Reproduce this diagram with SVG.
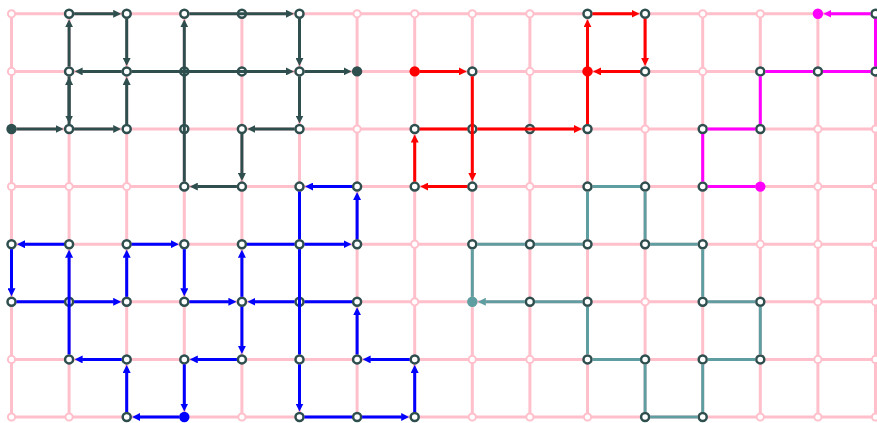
<svg xmlns="http://www.w3.org/2000/svg" width="877" height="423" viewBox="0 0 877 423">
<style>
.gl{stroke:#ffc0cb;stroke-width:3;fill:none}
.gp circle{fill:#fff;stroke:#ffc0cb;stroke-width:2}
.n{fill:#fff;stroke:#2f4f4f;stroke-width:2.5}
.e line{stroke-width:3;fill:none;stroke-linecap:butt}
.dk line{stroke:#2f4f4f}
.rd line{stroke:#ff0000}
.bl line{stroke:#0000ff}
.tl line{stroke:#5f9ea0}
.mg line{stroke:#ff00ff}
</style>
<defs>
<marker id="ad" markerUnits="userSpaceOnUse" markerWidth="8" markerHeight="8" viewBox="0 -4 8 8" refX="0.5" refY="0" orient="auto"><path d="M0,-4L8,0L0,4z" fill="#2f4f4f"/></marker>
<marker id="ar" markerUnits="userSpaceOnUse" markerWidth="8" markerHeight="8" viewBox="0 -4 8 8" refX="0.5" refY="0" orient="auto"><path d="M0,-4L8,0L0,4z" fill="#ff0000"/></marker>
<marker id="ab" markerUnits="userSpaceOnUse" markerWidth="8" markerHeight="8" viewBox="0 -4 8 8" refX="0.5" refY="0" orient="auto"><path d="M0,-4L8,0L0,4z" fill="#0000ff"/></marker>
<marker id="at" markerUnits="userSpaceOnUse" markerWidth="8" markerHeight="8" viewBox="0 -4 8 8" refX="0.5" refY="0" orient="auto"><path d="M0,-4L8,0L0,4z" fill="#5f9ea0"/></marker>
<marker id="am" markerUnits="userSpaceOnUse" markerWidth="8" markerHeight="8" viewBox="0 -4 8 8" refX="0.5" refY="0" orient="auto"><path d="M0,-4L8,0L0,4z" fill="#ff00ff"/></marker>
</defs>
<g id="grid">
<path class="gl" d="M11.5,13.8H875.5M11.5,71.4H875.5M11.5,129H875.5M11.5,186.6H875.5M11.5,244.2H875.5M11.5,301.8H875.5M11.5,359.4H875.5M11.5,417H875.5M11.5,13.8V417M69.1,13.8V417M126.7,13.8V417M184.3,13.8V417M241.9,13.8V417M299.5,13.8V417M357.1,13.8V417M414.7,13.8V417M472.3,13.8V417M529.9,13.8V417M587.5,13.8V417M645.1,13.8V417M702.7,13.8V417M760.3,13.8V417M817.9,13.8V417M875.5,13.8V417"/>
<g class="gp">
<circle cx="11.5" cy="13.8" r="3.6"/><circle cx="69.1" cy="13.8" r="3.6"/><circle cx="126.7" cy="13.8" r="3.6"/><circle cx="184.3" cy="13.8" r="3.6"/><circle cx="241.9" cy="13.8" r="3.6"/><circle cx="299.5" cy="13.8" r="3.6"/><circle cx="357.1" cy="13.8" r="3.6"/><circle cx="414.7" cy="13.8" r="3.6"/><circle cx="472.3" cy="13.8" r="3.6"/><circle cx="529.9" cy="13.8" r="3.6"/><circle cx="587.5" cy="13.8" r="3.6"/><circle cx="645.1" cy="13.8" r="3.6"/><circle cx="702.7" cy="13.8" r="3.6"/><circle cx="760.3" cy="13.8" r="3.6"/><circle cx="817.9" cy="13.8" r="3.6"/><circle cx="875.5" cy="13.8" r="3.6"/>
<circle cx="11.5" cy="71.4" r="3.6"/><circle cx="69.1" cy="71.4" r="3.6"/><circle cx="126.7" cy="71.4" r="3.6"/><circle cx="184.3" cy="71.4" r="3.6"/><circle cx="241.9" cy="71.4" r="3.6"/><circle cx="299.5" cy="71.4" r="3.6"/><circle cx="357.1" cy="71.4" r="3.6"/><circle cx="414.7" cy="71.4" r="3.6"/><circle cx="472.3" cy="71.4" r="3.6"/><circle cx="529.9" cy="71.4" r="3.6"/><circle cx="587.5" cy="71.4" r="3.6"/><circle cx="645.1" cy="71.4" r="3.6"/><circle cx="702.7" cy="71.4" r="3.6"/><circle cx="760.3" cy="71.4" r="3.6"/><circle cx="817.9" cy="71.4" r="3.6"/><circle cx="875.5" cy="71.4" r="3.6"/>
<circle cx="11.5" cy="129" r="3.6"/><circle cx="69.1" cy="129" r="3.6"/><circle cx="126.7" cy="129" r="3.6"/><circle cx="184.3" cy="129" r="3.6"/><circle cx="241.9" cy="129" r="3.6"/><circle cx="299.5" cy="129" r="3.6"/><circle cx="357.1" cy="129" r="3.6"/><circle cx="414.7" cy="129" r="3.6"/><circle cx="472.3" cy="129" r="3.6"/><circle cx="529.9" cy="129" r="3.6"/><circle cx="587.5" cy="129" r="3.6"/><circle cx="645.1" cy="129" r="3.6"/><circle cx="702.7" cy="129" r="3.6"/><circle cx="760.3" cy="129" r="3.6"/><circle cx="817.9" cy="129" r="3.6"/><circle cx="875.5" cy="129" r="3.6"/>
<circle cx="11.5" cy="186.6" r="3.6"/><circle cx="69.1" cy="186.6" r="3.6"/><circle cx="126.7" cy="186.6" r="3.6"/><circle cx="184.3" cy="186.6" r="3.6"/><circle cx="241.9" cy="186.6" r="3.6"/><circle cx="299.5" cy="186.6" r="3.6"/><circle cx="357.1" cy="186.6" r="3.6"/><circle cx="414.7" cy="186.6" r="3.6"/><circle cx="472.3" cy="186.6" r="3.6"/><circle cx="529.9" cy="186.6" r="3.6"/><circle cx="587.5" cy="186.6" r="3.6"/><circle cx="645.1" cy="186.6" r="3.6"/><circle cx="702.7" cy="186.6" r="3.6"/><circle cx="760.3" cy="186.6" r="3.6"/><circle cx="817.9" cy="186.6" r="3.6"/><circle cx="875.5" cy="186.6" r="3.6"/>
<circle cx="11.5" cy="244.2" r="3.6"/><circle cx="69.1" cy="244.2" r="3.6"/><circle cx="126.7" cy="244.2" r="3.6"/><circle cx="184.3" cy="244.2" r="3.6"/><circle cx="241.9" cy="244.2" r="3.6"/><circle cx="299.5" cy="244.2" r="3.6"/><circle cx="357.1" cy="244.2" r="3.6"/><circle cx="414.7" cy="244.2" r="3.6"/><circle cx="472.3" cy="244.2" r="3.6"/><circle cx="529.9" cy="244.2" r="3.6"/><circle cx="587.5" cy="244.2" r="3.6"/><circle cx="645.1" cy="244.2" r="3.6"/><circle cx="702.7" cy="244.2" r="3.6"/><circle cx="760.3" cy="244.2" r="3.6"/><circle cx="817.9" cy="244.2" r="3.6"/><circle cx="875.5" cy="244.2" r="3.6"/>
<circle cx="11.5" cy="301.8" r="3.6"/><circle cx="69.1" cy="301.8" r="3.6"/><circle cx="126.7" cy="301.8" r="3.6"/><circle cx="184.3" cy="301.8" r="3.6"/><circle cx="241.9" cy="301.8" r="3.6"/><circle cx="299.5" cy="301.8" r="3.6"/><circle cx="357.1" cy="301.8" r="3.6"/><circle cx="414.7" cy="301.8" r="3.6"/><circle cx="472.3" cy="301.8" r="3.6"/><circle cx="529.9" cy="301.8" r="3.6"/><circle cx="587.5" cy="301.8" r="3.6"/><circle cx="645.1" cy="301.8" r="3.6"/><circle cx="702.7" cy="301.8" r="3.6"/><circle cx="760.3" cy="301.8" r="3.6"/><circle cx="817.9" cy="301.8" r="3.6"/><circle cx="875.5" cy="301.8" r="3.6"/>
<circle cx="11.5" cy="359.4" r="3.6"/><circle cx="69.1" cy="359.4" r="3.6"/><circle cx="126.7" cy="359.4" r="3.6"/><circle cx="184.3" cy="359.4" r="3.6"/><circle cx="241.9" cy="359.4" r="3.6"/><circle cx="299.5" cy="359.4" r="3.6"/><circle cx="357.1" cy="359.4" r="3.6"/><circle cx="414.7" cy="359.4" r="3.6"/><circle cx="472.3" cy="359.4" r="3.6"/><circle cx="529.9" cy="359.4" r="3.6"/><circle cx="587.5" cy="359.4" r="3.6"/><circle cx="645.1" cy="359.4" r="3.6"/><circle cx="702.7" cy="359.4" r="3.6"/><circle cx="760.3" cy="359.4" r="3.6"/><circle cx="817.9" cy="359.4" r="3.6"/><circle cx="875.5" cy="359.4" r="3.6"/>
<circle cx="11.5" cy="417" r="3.6"/><circle cx="69.1" cy="417" r="3.6"/><circle cx="126.7" cy="417" r="3.6"/><circle cx="184.3" cy="417" r="3.6"/><circle cx="241.9" cy="417" r="3.6"/><circle cx="299.5" cy="417" r="3.6"/><circle cx="357.1" cy="417" r="3.6"/><circle cx="414.7" cy="417" r="3.6"/><circle cx="472.3" cy="417" r="3.6"/><circle cx="529.9" cy="417" r="3.6"/><circle cx="587.5" cy="417" r="3.6"/><circle cx="645.1" cy="417" r="3.6"/><circle cx="702.7" cy="417" r="3.6"/><circle cx="760.3" cy="417" r="3.6"/><circle cx="817.9" cy="417" r="3.6"/><circle cx="875.5" cy="417" r="3.6"/>
</g>
</g>
<g id="nodes">
<g id="n0_2"><circle cx="11.5" cy="129" r="5.2" fill="#2f4f4f"/></g>
<g id="n1_0"><circle class="n" cx="69.1" cy="13.8" r="4"/></g>
<g id="n2_0"><circle class="n" cx="126.7" cy="13.8" r="4"/></g>
<g id="n3_0"><circle class="n" cx="184.3" cy="13.8" r="4"/></g>
<g id="n4_0"><circle class="n" cx="241.9" cy="13.8" r="4"/></g>
<g id="n5_0"><circle class="n" cx="299.5" cy="13.8" r="4"/></g>
<g id="n1_1"><circle class="n" cx="69.1" cy="71.4" r="4"/></g>
<g id="n2_1"><circle class="n" cx="126.7" cy="71.4" r="4"/></g>
<g id="n3_1"><circle class="n" cx="184.3" cy="71.4" r="4"/></g>
<g id="n4_1"><circle class="n" cx="241.9" cy="71.4" r="4"/></g>
<g id="n5_1"><circle class="n" cx="299.5" cy="71.4" r="4"/></g>
<g id="n6_1"><circle cx="357.1" cy="71.4" r="5.2" fill="#2f4f4f"/></g>
<g id="n1_2"><circle class="n" cx="69.1" cy="129" r="4"/></g>
<g id="n2_2"><circle class="n" cx="126.7" cy="129" r="4"/></g>
<g id="n3_2"><circle class="n" cx="184.3" cy="129" r="4"/></g>
<g id="n4_2"><circle class="n" cx="241.9" cy="129" r="4"/></g>
<g id="n5_2"><circle class="n" cx="299.5" cy="129" r="4"/></g>
<g id="n3_3"><circle class="n" cx="184.3" cy="186.6" r="4"/></g>
<g id="n4_3"><circle class="n" cx="241.9" cy="186.6" r="4"/></g>
<g id="n7_1"><circle cx="414.7" cy="71.4" r="5.2" fill="#ff0000"/></g>
<g id="n8_1"><circle class="n" cx="472.3" cy="71.4" r="4"/></g>
<g id="n7_2"><circle class="n" cx="414.7" cy="129" r="4"/></g>
<g id="n8_2"><circle class="n" cx="472.3" cy="129" r="4"/></g>
<g id="n9_2"><circle class="n" cx="529.9" cy="129" r="4"/></g>
<g id="n10_2"><circle class="n" cx="587.5" cy="129" r="4"/></g>
<g id="n7_3"><circle class="n" cx="414.7" cy="186.6" r="4"/></g>
<g id="n8_3"><circle class="n" cx="472.3" cy="186.6" r="4"/></g>
<g id="n10_0"><circle class="n" cx="587.5" cy="13.8" r="4"/></g>
<g id="n11_0"><circle class="n" cx="645.1" cy="13.8" r="4"/></g>
<g id="n10_1"><circle cx="587.5" cy="71.4" r="5.2" fill="#ff0000"/></g>
<g id="n11_1"><circle class="n" cx="645.1" cy="71.4" r="4"/></g>
<g id="n14_0"><circle cx="817.9" cy="13.8" r="5.2" fill="#ff00ff"/></g>
<g id="n15_0"><circle class="n" cx="875.5" cy="13.8" r="4"/></g>
<g id="n15_1"><circle class="n" cx="875.5" cy="71.4" r="4"/></g>
<g id="n14_1"><circle class="n" cx="817.9" cy="71.4" r="4"/></g>
<g id="n13_1"><circle class="n" cx="760.3" cy="71.4" r="4"/></g>
<g id="n13_2"><circle class="n" cx="760.3" cy="129" r="4"/></g>
<g id="n12_2"><circle class="n" cx="702.7" cy="129" r="4"/></g>
<g id="n12_3"><circle class="n" cx="702.7" cy="186.6" r="4"/></g>
<g id="n13_3"><circle cx="760.3" cy="186.6" r="5.2" fill="#ff00ff"/></g>
<g id="n5_3"><circle class="n" cx="299.5" cy="186.6" r="4"/></g>
<g id="n6_3"><circle class="n" cx="357.1" cy="186.6" r="4"/></g>
<g id="n0_4"><circle class="n" cx="11.5" cy="244.2" r="4"/></g>
<g id="n1_4"><circle class="n" cx="69.1" cy="244.2" r="4"/></g>
<g id="n2_4"><circle class="n" cx="126.7" cy="244.2" r="4"/></g>
<g id="n3_4"><circle class="n" cx="184.3" cy="244.2" r="4"/></g>
<g id="n4_4"><circle class="n" cx="241.9" cy="244.2" r="4"/></g>
<g id="n5_4"><circle class="n" cx="299.5" cy="244.2" r="4"/></g>
<g id="n6_4"><circle class="n" cx="357.1" cy="244.2" r="4"/></g>
<g id="n0_5"><circle class="n" cx="11.5" cy="301.8" r="4"/></g>
<g id="n1_5"><circle class="n" cx="69.1" cy="301.8" r="4"/></g>
<g id="n2_5"><circle class="n" cx="126.7" cy="301.8" r="4"/></g>
<g id="n3_5"><circle class="n" cx="184.3" cy="301.8" r="4"/></g>
<g id="n4_5"><circle class="n" cx="241.9" cy="301.8" r="4"/></g>
<g id="n5_5"><circle class="n" cx="299.5" cy="301.8" r="4"/></g>
<g id="n6_5"><circle class="n" cx="357.1" cy="301.8" r="4"/></g>
<g id="n1_6"><circle class="n" cx="69.1" cy="359.4" r="4"/></g>
<g id="n2_6"><circle class="n" cx="126.7" cy="359.4" r="4"/></g>
<g id="n3_6"><circle class="n" cx="184.3" cy="359.4" r="4"/></g>
<g id="n4_6"><circle class="n" cx="241.9" cy="359.4" r="4"/></g>
<g id="n5_6"><circle class="n" cx="299.5" cy="359.4" r="4"/></g>
<g id="n6_6"><circle class="n" cx="357.1" cy="359.4" r="4"/></g>
<g id="n7_6"><circle class="n" cx="414.7" cy="359.4" r="4"/></g>
<g id="n2_7"><circle class="n" cx="126.7" cy="417" r="4"/></g>
<g id="n3_7"><circle cx="184.3" cy="417" r="5.2" fill="#0000ff"/></g>
<g id="n5_7"><circle class="n" cx="299.5" cy="417" r="4"/></g>
<g id="n6_7"><circle class="n" cx="357.1" cy="417" r="4"/></g>
<g id="n7_7"><circle class="n" cx="414.7" cy="417" r="4"/></g>
<g id="n10_3"><circle class="n" cx="587.5" cy="186.6" r="4"/></g>
<g id="n11_3"><circle class="n" cx="645.1" cy="186.6" r="4"/></g>
<g id="n8_4"><circle class="n" cx="472.3" cy="244.2" r="4"/></g>
<g id="n9_4"><circle class="n" cx="529.9" cy="244.2" r="4"/></g>
<g id="n10_4"><circle class="n" cx="587.5" cy="244.2" r="4"/></g>
<g id="n11_4"><circle class="n" cx="645.1" cy="244.2" r="4"/></g>
<g id="n12_4"><circle class="n" cx="702.7" cy="244.2" r="4"/></g>
<g id="n8_5"><circle cx="472.3" cy="301.8" r="5.2" fill="#5f9ea0"/></g>
<g id="n9_5"><circle class="n" cx="529.9" cy="301.8" r="4"/></g>
<g id="n10_5"><circle class="n" cx="587.5" cy="301.8" r="4"/></g>
<g id="n12_5"><circle class="n" cx="702.7" cy="301.8" r="4"/></g>
<g id="n13_5"><circle class="n" cx="760.3" cy="301.8" r="4"/></g>
<g id="n10_6"><circle class="n" cx="587.5" cy="359.4" r="4"/></g>
<g id="n11_6"><circle class="n" cx="645.1" cy="359.4" r="4"/></g>
<g id="n12_6"><circle class="n" cx="702.7" cy="359.4" r="4"/></g>
<g id="n13_6"><circle class="n" cx="760.3" cy="359.4" r="4"/></g>
<g id="n11_7"><circle class="n" cx="645.1" cy="417" r="4"/></g>
<g id="n12_7"><circle class="n" cx="702.7" cy="417" r="4"/></g>
</g>
<g id="connectors" class="e">
<g class="dk">
<line x1="16.5" y1="129" x2="56.1" y2="129" marker-end="url(#ad)"/>
<line x1="74.1" y1="129" x2="113.7" y2="129" marker-end="url(#ad)"/>
<line x1="69.1" y1="124" x2="69.1" y2="84.4" marker-end="url(#ad)"/>
<line x1="69.1" y1="76.4" x2="69.1" y2="116" marker-end="url(#ad)"/>
<line x1="69.1" y1="66.4" x2="69.1" y2="26.8" marker-end="url(#ad)"/>
<line x1="74.1" y1="13.8" x2="113.7" y2="13.8" marker-end="url(#ad)"/>
<line x1="126.7" y1="18.8" x2="126.7" y2="58.4" marker-end="url(#ad)"/>
<line x1="121.7" y1="71.4" x2="82.1" y2="71.4" marker-end="url(#ad)"/>
<line x1="126.7" y1="124" x2="126.7" y2="84.4" marker-end="url(#ad)"/>
<line x1="131.7" y1="71.4" x2="286.5" y2="71.4" marker-end="url(#ad)"/>
<line x1="184.3" y1="181.6" x2="184.3" y2="26.8" marker-end="url(#ad)"/>
<line x1="189.3" y1="13.8" x2="286.5" y2="13.8" marker-end="url(#ad)"/>
<line x1="299.5" y1="18.8" x2="299.5" y2="58.4" marker-end="url(#ad)"/>
<line x1="299.5" y1="76.4" x2="299.5" y2="116" marker-end="url(#ad)"/>
<line x1="294.5" y1="129" x2="254.9" y2="129" marker-end="url(#ad)"/>
<line x1="241.9" y1="134" x2="241.9" y2="173.6" marker-end="url(#ad)"/>
<line x1="236.9" y1="186.6" x2="197.3" y2="186.6" marker-end="url(#ad)"/>
<line x1="304.5" y1="71.4" x2="344.1" y2="71.4" marker-end="url(#ad)"/>
</g>
<g class="rd">
<line x1="419.7" y1="71.4" x2="459.3" y2="71.4" marker-end="url(#ar)"/>
<line x1="472.3" y1="76.4" x2="472.3" y2="173.6" marker-end="url(#ar)"/>
<line x1="467.3" y1="186.6" x2="427.7" y2="186.6" marker-end="url(#ar)"/>
<line x1="414.7" y1="181.6" x2="414.7" y2="142" marker-end="url(#ar)"/>
<line x1="419.7" y1="129" x2="467.3" y2="129"/>
<line x1="477.3" y1="129" x2="574.5" y2="129" marker-end="url(#ar)"/>
<line x1="587.5" y1="124" x2="587.5" y2="26.8" marker-end="url(#ar)"/>
<line x1="592.5" y1="13.8" x2="632.1" y2="13.8" marker-end="url(#ar)"/>
<line x1="645.1" y1="18.8" x2="645.1" y2="58.4" marker-end="url(#ar)"/>
<line x1="640.1" y1="71.4" x2="600.5" y2="71.4" marker-end="url(#ar)"/>
</g>
<g class="mg">
<line x1="870.5" y1="13.8" x2="830.9" y2="13.8" marker-end="url(#am)"/>
<line x1="875.5" y1="18.8" x2="875.5" y2="66.4"/>
<line x1="870.5" y1="71.4" x2="822.9" y2="71.4"/>
<line x1="812.9" y1="71.4" x2="765.3" y2="71.4"/>
<line x1="760.3" y1="76.4" x2="760.3" y2="124"/>
<line x1="755.3" y1="129" x2="707.7" y2="129"/>
<line x1="702.7" y1="134" x2="702.7" y2="181.6"/>
<line x1="707.7" y1="186.6" x2="755.3" y2="186.6"/>
</g>
<g class="bl">
<line x1="64.1" y1="244.2" x2="24.5" y2="244.2" marker-end="url(#ab)"/>
<line x1="11.5" y1="249.2" x2="11.5" y2="288.8" marker-end="url(#ab)"/>
<line x1="16.5" y1="301.8" x2="64.1" y2="301.8"/>
<line x1="74.1" y1="301.8" x2="113.7" y2="301.8" marker-end="url(#ab)"/>
<line x1="69.1" y1="354.4" x2="69.1" y2="257.2" marker-end="url(#ab)"/>
<line x1="121.7" y1="359.4" x2="82.1" y2="359.4" marker-end="url(#ab)"/>
<line x1="126.7" y1="412" x2="126.7" y2="372.4" marker-end="url(#ab)"/>
<line x1="179.3" y1="417" x2="139.7" y2="417" marker-end="url(#ab)"/>
<line x1="184.3" y1="364.4" x2="184.3" y2="404" marker-end="url(#ab)"/>
<line x1="236.9" y1="359.4" x2="197.3" y2="359.4" marker-end="url(#ab)"/>
<line x1="241.9" y1="306.8" x2="241.9" y2="346.4" marker-end="url(#ab)"/>
<line x1="126.7" y1="296.8" x2="126.7" y2="257.2" marker-end="url(#ab)"/>
<line x1="131.7" y1="244.2" x2="171.3" y2="244.2" marker-end="url(#ab)"/>
<line x1="184.3" y1="249.2" x2="184.3" y2="288.8" marker-end="url(#ab)"/>
<line x1="189.3" y1="301.8" x2="228.9" y2="301.8" marker-end="url(#ab)"/>
<line x1="241.9" y1="296.8" x2="241.9" y2="257.2" marker-end="url(#ab)"/>
<line x1="246.9" y1="244.2" x2="294.5" y2="244.2"/>
<line x1="304.5" y1="244.2" x2="344.1" y2="244.2" marker-end="url(#ab)"/>
<line x1="357.1" y1="239.2" x2="357.1" y2="199.6" marker-end="url(#ab)"/>
<line x1="352.1" y1="186.6" x2="312.5" y2="186.6" marker-end="url(#ab)"/>
<line x1="299.5" y1="191.6" x2="299.5" y2="239.2"/>
<line x1="299.5" y1="249.2" x2="299.5" y2="354.4"/>
<line x1="299.5" y1="364.4" x2="299.5" y2="404" marker-end="url(#ab)"/>
<line x1="304.5" y1="417" x2="352.1" y2="417"/>
<line x1="362.1" y1="417" x2="401.7" y2="417" marker-end="url(#ab)"/>
<line x1="414.7" y1="412" x2="414.7" y2="372.4" marker-end="url(#ab)"/>
<line x1="409.7" y1="359.4" x2="370.1" y2="359.4" marker-end="url(#ab)"/>
<line x1="357.1" y1="354.4" x2="357.1" y2="314.8" marker-end="url(#ab)"/>
<line x1="352.1" y1="301.8" x2="304.5" y2="301.8"/>
<line x1="294.5" y1="301.8" x2="254.9" y2="301.8" marker-end="url(#ab)"/>
</g>
<g class="tl">
<line x1="524.9" y1="301.8" x2="485.3" y2="301.8" marker-end="url(#at)"/>
<line x1="534.9" y1="301.8" x2="582.5" y2="301.8"/>
<line x1="587.5" y1="306.8" x2="587.5" y2="354.4"/>
<line x1="592.5" y1="359.4" x2="640.1" y2="359.4"/>
<line x1="645.1" y1="364.4" x2="645.1" y2="412"/>
<line x1="650.1" y1="417" x2="697.7" y2="417"/>
<line x1="702.7" y1="412" x2="702.7" y2="364.4"/>
<line x1="707.7" y1="359.4" x2="755.3" y2="359.4"/>
<line x1="760.3" y1="354.4" x2="760.3" y2="306.8"/>
<line x1="755.3" y1="301.8" x2="707.7" y2="301.8"/>
<line x1="702.7" y1="296.8" x2="702.7" y2="249.2"/>
<line x1="697.7" y1="244.2" x2="650.1" y2="244.2"/>
<line x1="645.1" y1="239.2" x2="645.1" y2="191.6"/>
<line x1="640.1" y1="186.6" x2="592.5" y2="186.6"/>
<line x1="587.5" y1="191.6" x2="587.5" y2="239.2"/>
<line x1="582.5" y1="244.2" x2="534.9" y2="244.2"/>
<line x1="524.9" y1="244.2" x2="477.3" y2="244.2"/>
<line x1="472.3" y1="249.2" x2="472.3" y2="296.8"/>
</g>
</g>
</svg>
